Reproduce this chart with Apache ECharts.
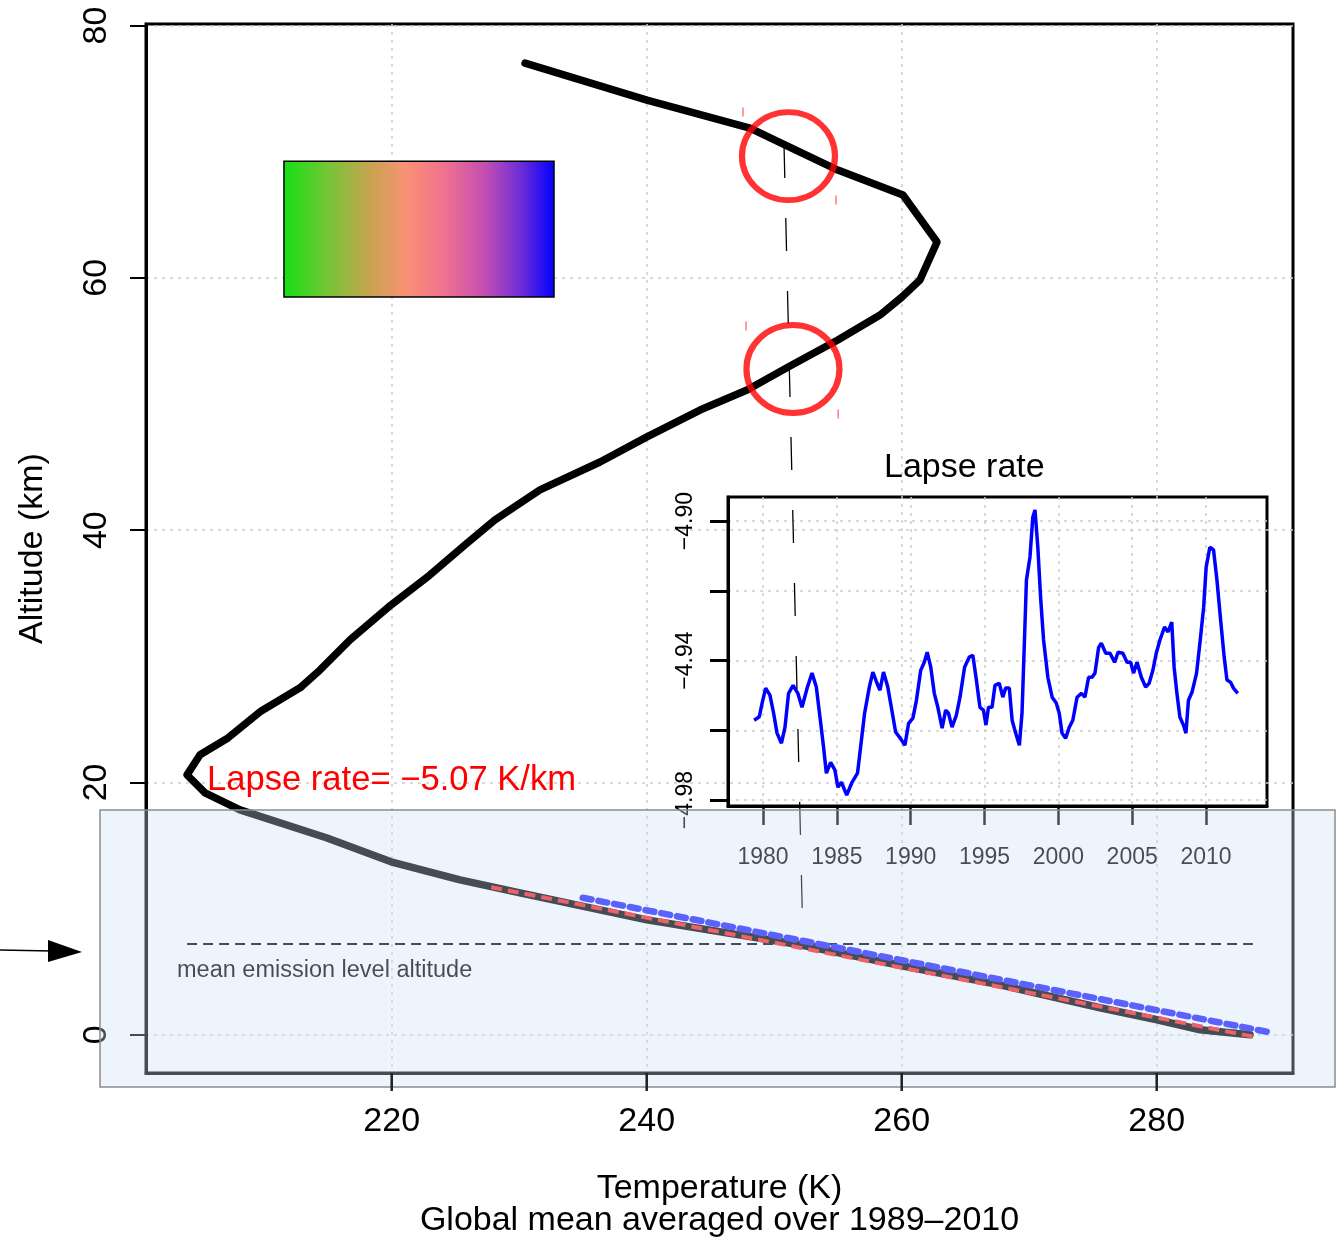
<!DOCTYPE html>
<html><head><meta charset="utf-8">
<script src="https://cdn.jsdelivr.net/npm/echarts@6/dist/echarts.min.js"></script>
<style>html,body{margin:0;padding:0;background:#fff}#c{width:1338px;height:1237px}</style>
</head><body><div id="c"></div>
<script>
// ---- main temperature profile ----
const profileT = [230.46,240.02,248.10,250.06,254.99,260.10,262.77,261.43,260.02,258.30,254.99,251.24,247.87,244.18,240.02,236.34,231.63,228.10,225.75,223.00,219.95,216.73,214.38,212.81,209.67,207.16,204.97,203.95,205.36,208.10,214.93,219.95,225.36,230.06,240.02,252.02,260.02,267.71,275.55,280.02,283.40,287.32];
const profileAlt = [77.02,74.09,71.87,70.92,68.54,66.56,62.84,59.83,58.48,57.05,55.07,53.01,51.11,49.52,47.39,45.40,43.19,40.81,38.83,36.45,34.07,31.30,28.92,27.50,25.60,23.53,22.19,20.60,19.18,17.83,15.60,13.71,12.28,11.25,9.11,7.13,5.47,3.96,2.14,1.19,0.40,0.00];
const redFitT = [227.8, 287.6];
const redFitAlt = [11.7, -0.15];
const blueFitT = [234.98, 289.05];
const blueFitAlt = [10.86, 0.16];
const emissionT = [203.95, 287.55];
const emissionAlt = 7.2;
const guideT = [250.77, 252.26];
const guideAlt = [70.52, 7.3];
const circleT = [251.12, 251.47];
const circleAlt = [69.65, 52.77];
const markT = [247.55, 254.85, 247.79, 255.02];
const markAlt = [73.14, 66.16, 56.18, 49.21];
const colorBarT = [211.55, 232.73];
const colorBarAlt = [58.48, 69.25];
const tempTicks = [220, 240, 260, 280];
const altTicks = [0, 20, 40, 60, 80];
// ---- inset: lapse rate ----
const lapseYears = [1979.40,1979.75,1979.94,1980.18,1980.47,1980.72,1980.95,1981.25,1981.49,1981.73,1982.04,1982.36,1982.64,1983.01,1983.32,1983.61,1983.91,1984.10,1984.29,1984.58,1984.87,1985.07,1985.31,1985.67,1986.03,1986.40,1986.64,1986.88,1987.20,1987.44,1987.72,1987.92,1988.16,1988.45,1988.69,1988.98,1989.30,1989.61,1989.86,1990.15,1990.39,1990.68,1990.92,1991.12,1991.36,1991.60,1991.84,1992.13,1992.37,1992.56,1992.80,1993.09,1993.34,1993.65,1993.97,1994.21,1994.45,1994.69,1994.93,1995.10,1995.27,1995.51,1995.71,1996.00,1996.24,1996.43,1996.68,1996.87,1997.11,1997.36,1997.54,1997.69,1997.84,1998.08,1998.27,1998.42,1998.61,1998.81,1999.00,1999.29,1999.58,1999.86,2000.06,2000.25,2000.49,2000.74,2000.98,2001.27,2001.56,2001.80,2002.05,2002.28,2002.48,2002.73,2002.91,2003.21,2003.50,2003.81,2004.05,2004.37,2004.65,2004.90,2005.09,2005.33,2005.62,2005.91,2006.15,2006.40,2006.63,2006.88,2007.19,2007.43,2007.68,2007.84,2008.03,2008.23,2008.47,2008.64,2008.81,2009.05,2009.36,2009.61,2009.84,2010.01,2010.26,2010.51,2010.74,2010.99,2011.23,2011.42,2011.66,2011.86,2012.15];
const lapseValues = [-4.9571,-4.9561,-4.9522,-4.9479,-4.9499,-4.9551,-4.9608,-4.9637,-4.9591,-4.9494,-4.9471,-4.9494,-4.9534,-4.9476,-4.9436,-4.9476,-4.9580,-4.9648,-4.9723,-4.9692,-4.9714,-4.9763,-4.9749,-4.9786,-4.9749,-4.9723,-4.9637,-4.9551,-4.9476,-4.9433,-4.9465,-4.9485,-4.9433,-4.9476,-4.9534,-4.9605,-4.9623,-4.9643,-4.9580,-4.9565,-4.9514,-4.9428,-4.9405,-4.9376,-4.9419,-4.9494,-4.9534,-4.9594,-4.9542,-4.9551,-4.9591,-4.9557,-4.9505,-4.9419,-4.9390,-4.9385,-4.9456,-4.9534,-4.9542,-4.9585,-4.9534,-4.9534,-4.9471,-4.9465,-4.9505,-4.9479,-4.9479,-4.9571,-4.9608,-4.9643,-4.9551,-4.9362,-4.9169,-4.9103,-4.8989,-4.8968,-4.9075,-4.9227,-4.9341,-4.9448,-4.9505,-4.9522,-4.9551,-4.9608,-4.9623,-4.9591,-4.9571,-4.9505,-4.9494,-4.9505,-4.9448,-4.9448,-4.9436,-4.9362,-4.9350,-4.9379,-4.9379,-4.9405,-4.9376,-4.9379,-4.9405,-4.9405,-4.9436,-4.9405,-4.9448,-4.9476,-4.9465,-4.9428,-4.9379,-4.9341,-4.9304,-4.9318,-4.9290,-4.9419,-4.9494,-4.9562,-4.9585,-4.9608,-4.9514,-4.9491,-4.9436,-4.9341,-4.9247,-4.9132,-4.9075,-4.9083,-4.9169,-4.9284,-4.9390,-4.9456,-4.9462,-4.9479,-4.9494];
const yearTicks = [1980, 1985, 1990, 1995, 2000, 2005, 2010];
const lapseTicks = [-4.98, -4.96, -4.94, -4.92, -4.90];
const lapseLabels = [-4.98, -4.94, -4.90];

const FONT = '"Liberation Sans", Arial, Helvetica, sans-serif';
const T_MIN = 200.73, T_MAX = 290.69, ALT_MIN = -3.03, ALT_MAX = 80.12;
const zip = (a, b) => a.map((v, i) => [v, b[i]]);
const minus = v => String(v).replace('-', '\u2212');
const gridLine = () => ({show: true, lineStyle: {color: '#cdcdcd', type: [3, 5], width: 1.5}});
const frame = () => ({show: true, onZero: false, lineStyle: {color: '#000', width: 3}});

const chart = echarts.init(document.getElementById('c'));
const option = {
  animation: false,
  grid: [
    {left: 146, top: 24, width: 1147, height: 1049, show: true, borderColor: '#000', borderWidth: 3, outerBoundsMode: 'none'},
    {left: 728, top: 497, width: 539, height: 309, show: true, borderColor: '#000', borderWidth: 3, outerBoundsMode: 'none'}
  ],
  xAxis: [
    {type: 'value', gridIndex: 0, min: T_MIN, max: T_MAX,
     axisLine: frame(),
     axisTick: {show: true, customValues: tempTicks, length: 16, lineStyle: {color: '#000', width: 2}},
     axisLabel: {customValues: tempTicks, fontSize: 34, color: '#000', margin: 32, fontFamily: FONT, formatter: v => String(v)},
     splitLine: gridLine(),
     name: 'Temperature (K)\nGlobal mean averaged over 1989\u20132010', nameLocation: 'middle', nameGap: 100,
     nameTextStyle: {fontSize: 34, color: '#000', fontFamily: FONT, lineHeight: 32}},
    {type: 'value', gridIndex: 1, min: 1977.63, max: 2014.13,
     axisLine: frame(),
     axisTick: {show: true, customValues: yearTicks, length: 19, lineStyle: {color: '#000', width: 2.5}},
     axisLabel: {customValues: yearTicks, fontSize: 23, color: '#000', margin: 40, fontFamily: FONT, formatter: v => String(v)},
     splitLine: gridLine()}
  ],
  yAxis: [
    {type: 'value', gridIndex: 0, min: ALT_MIN, max: ALT_MAX,
     axisLine: frame(),
     axisTick: {show: true, customValues: altTicks, length: 16, lineStyle: {color: '#000', width: 2}},
     axisLabel: {customValues: altTicks, fontSize: 34, color: '#000', margin: 32, rotate: 90, fontFamily: FONT, formatter: v => String(v)},
     splitLine: gridLine(),
     name: 'Altitude (km)', nameLocation: 'middle', nameGap: 96, nameRotate: 90,
     nameTextStyle: {fontSize: 34, color: '#000', fontFamily: FONT}},
    {type: 'value', gridIndex: 1, min: -4.9817, max: -4.8931,
     axisLine: frame(),
     axisTick: {show: true, customValues: lapseTicks, length: 18, lineStyle: {color: '#000', width: 3}},
     axisLabel: {customValues: lapseLabels, fontSize: 23, color: '#000', margin: 31, rotate: 90, fontFamily: FONT,
       formatter: v => minus(v.toFixed(2))},
     splitLine: gridLine()}
  ],
  series: [
    {type: 'scatter', name: 'xticks', xAxisIndex: 0, yAxisIndex: 0, clip: false, silent: true, z: 300,
     data: tempTicks.map(v => [v, ALT_MIN]),
     symbol: 'rect', symbolSize: [2.5, 18], symbolOffset: [0, 9], itemStyle: {color: '#222', opacity: 1}},
    {type: 'line', name: 'profile', xAxisIndex: 0, yAxisIndex: 0, data: zip(profileT, profileAlt),
     symbol: 'none', z: 4, lineStyle: {color: '#000', width: 7.5, join: 'round', cap: 'round'}},
    {type: 'line', name: 'fit', xAxisIndex: 0, yAxisIndex: 0, data: zip(redFitT, redFitAlt),
     symbol: 'none', z: 5, lineStyle: {color: '#ff2020', width: 4, type: [11, 6]},
     markArea: {silent: true,
       itemStyle: {borderColor: '#000', borderWidth: 1.5,
         color: {type: 'linear', x: 0, y: 0, x2: 1, y2: 0, colorStops: [
           {offset: 0, color: '#14e014'}, {offset: 0.15, color: '#6cc832'}, {offset: 0.32, color: '#c8a450'},
           {offset: 0.45, color: '#f89274'}, {offset: 0.6, color: '#f07090'}, {offset: 0.75, color: '#c04cb4'},
           {offset: 0.88, color: '#6a2cd8'}, {offset: 1, color: '#0000ff'}]}},
       data: [[{coord: [colorBarT[0], colorBarAlt[1]]}, {coord: [colorBarT[1], colorBarAlt[0]]}]]}},
    {type: 'line', name: 'fit2', xAxisIndex: 0, yAxisIndex: 0, data: zip(blueFitT, blueFitAlt),
     symbol: 'none', z: 5, lineStyle: {color: '#2020ff', width: 6.5, type: [9, 7], cap: 'round'}},
    {type: 'line', name: 'emission', xAxisIndex: 0, yAxisIndex: 0,
     data: [[emissionT[0], emissionAlt], [emissionT[1], emissionAlt]],
     symbol: 'none', z: 3, lineStyle: {color: '#000', width: 2, type: [10, 6]}},
    {type: 'line', name: 'guide', xAxisIndex: 0, yAxisIndex: 0, data: zip(guideT, guideAlt),
     symbol: 'none', z: 6, lineStyle: {color: '#000', width: 1.3, type: [33, 40]}},
    {type: 'scatter', name: 'circles', xAxisIndex: 0, yAxisIndex: 0, data: zip(circleT, circleAlt),
     symbol: 'circle', symbolSize: [93, 88], z: 7,
     itemStyle: {color: 'rgba(0,0,0,0)', borderColor: '#ff0000', borderWidth: 6}},
    {type: 'scatter', name: 'marks', xAxisIndex: 0, yAxisIndex: 0, data: zip(markT, markAlt),
     symbol: 'rect', symbolSize: [1.5, 9], z: 7, itemStyle: {color: '#ff5a5a'}},
    {type: 'line', name: 'lapse', xAxisIndex: 1, yAxisIndex: 1, data: zip(lapseYears, lapseValues),
     symbol: 'none', z: 5, lineStyle: {color: '#0000ff', width: 3.5}}
  ],
  graphic: [
    {type: 'text', left: 207, top: 763, z: 20,
     style: {text: 'Lapse rate= \u22125.07 K/km', fill: '#ff0000', font: '34.6px ' + FONT}},
    {type: 'text', left: 884, top: 451, z: 20,
     style: {text: 'Lapse rate', fill: '#000', font: '34px ' + FONT}},
    {type: 'text', left: 177, top: 959, z: 20,
     style: {text: 'mean emission level altitude', fill: '#000', font: '23.5px ' + FONT}},
    {type: 'line', z: 20, shape: {x1: 0, y1: 950, x2: 52, y2: 951}, style: {stroke: '#000', lineWidth: 1.5}},
    {type: 'polygon', z: 20, shape: {points: [[48, 940], [82, 952], [48, 962]]}, style: {fill: '#000'}},
    {type: 'rect', z: 100, shape: {x: 100, y: 810, width: 1235, height: 277},
     style: {fill: 'rgba(204,222,243,0.34)', stroke: '#8c8c8c', lineWidth: 1.5}}
  ]
};
chart.setOption(option);
</script>
</body></html>
